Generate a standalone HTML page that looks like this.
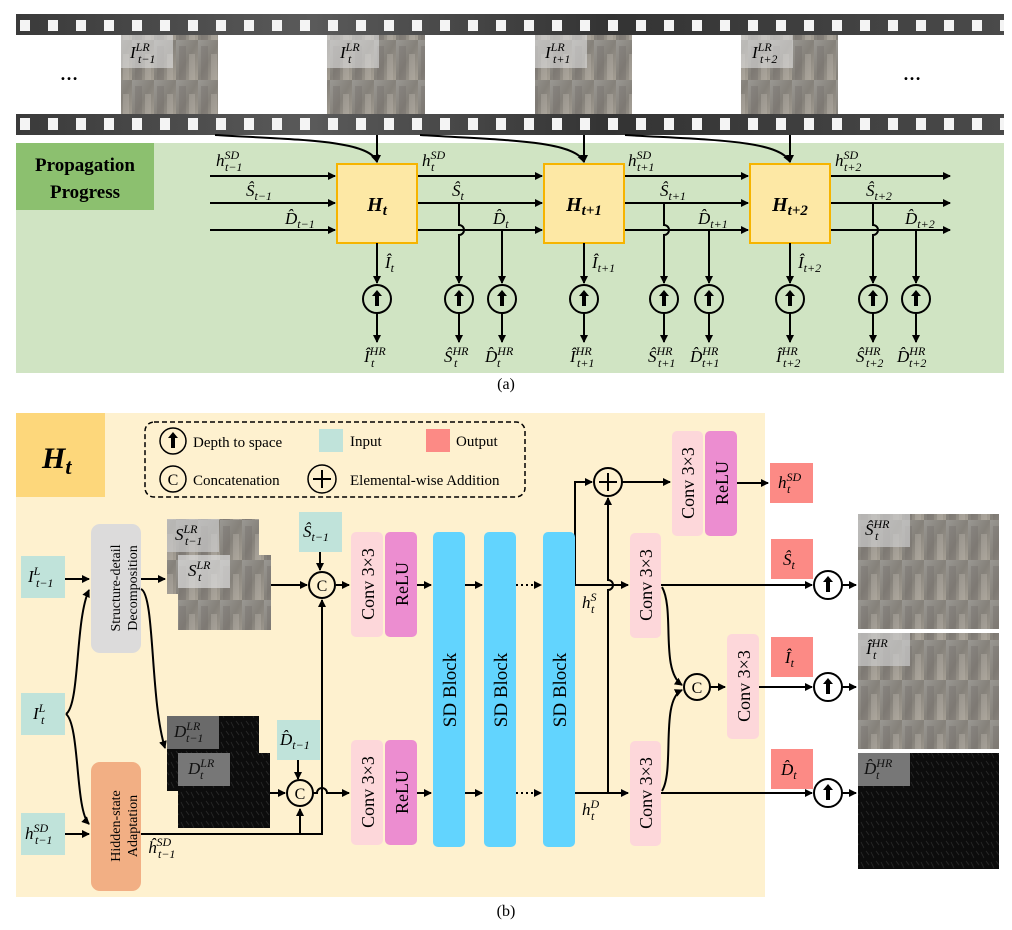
<!DOCTYPE html>
<html><head><meta charset="utf-8"><style>
html,body{margin:0;padding:0;background:#fff}
svg{display:block}
text{font-family:"Liberation Serif",serif;fill:#000}
.m{font-style:italic;font-size:17px}
.s{font-size:12px}
</style></head><body>
<svg width="1012" height="930" viewBox="0 0 1012 930" xmlns="http://www.w3.org/2000/svg">
<defs>
<marker id="a" markerWidth="8" markerHeight="8" refX="7" refY="4" orient="auto" markerUnits="userSpaceOnUse"><path d="M0,0 L8,4 L0,8 z" fill="#000"/></marker>
<linearGradient id="film" x1="0" y1="0" x2="1" y2="0">
<stop offset="0" stop-color="#3a3a3a"/><stop offset="0.3" stop-color="#5a5a5a"/><stop offset="0.6" stop-color="#333"/><stop offset="1" stop-color="#4a4a4a"/></linearGradient>
<pattern id="holes" x="20" y="0" width="28" height="200" patternUnits="userSpaceOnUse"><rect x="0" y="0" width="10" height="200" fill="#f4f4f4" rx="2"/></pattern>
<linearGradient id="city" x1="0" y1="0" x2="1" y2="1"><stop offset="0" stop-color="#9a9893"/><stop offset="0.5" stop-color="#85817a"/><stop offset="1" stop-color="#a59f94"/></linearGradient>
<pattern id="bld" width="22" height="40" patternUnits="userSpaceOnUse"><rect width="22" height="40" fill="url(#city)"/><rect x="3" y="6" width="7" height="34" fill="#6e6b66" opacity=".35"/><rect x="13" y="14" width="6" height="26" fill="#c0bbb2" opacity=".35"/></pattern>
<pattern id="dark" width="10" height="10" patternUnits="userSpaceOnUse"><rect width="10" height="10" fill="#0c0c0c"/><path d="M1,2 L4,8 M6,1 L9,5" stroke="#2a2a2a" stroke-width="0.8"/></pattern>
</defs>

<!-- FILM STRIP -->
<rect x="16" y="14" width="988" height="121" fill="url(#film)"/>
<rect x="16" y="20" width="988" height="11" fill="url(#holes)"/>
<rect x="16" y="118" width="988" height="12" fill="url(#holes)"/>
<rect x="16" y="35" width="988" height="79" fill="#fff"/>
<g>
<rect x="121" y="35" width="97" height="79" fill="url(#bld)"/><rect x="121" y="35" width="52" height="33" fill="#ddd" opacity=".6"/>
<rect x="327" y="35" width="98" height="79" fill="url(#bld)"/><rect x="327" y="35" width="52" height="33" fill="#ddd" opacity=".6"/>
<rect x="535" y="35" width="97" height="79" fill="url(#bld)"/><rect x="535" y="35" width="52" height="33" fill="#ddd" opacity=".6"/>
<rect x="741" y="35" width="97" height="79" fill="url(#bld)"/><rect x="741" y="35" width="52" height="33" fill="#ddd" opacity=".6"/>
</g>
<text x="60" y="80" font-size="18" font-weight="bold">…</text>
<text x="903" y="80" font-size="18" font-weight="bold">…</text>
<text class="m" x="130" y="58">I<tspan class="s" dy="-7">LR</tspan><tspan class="s" x="138" dy="12">t−1</tspan></text>
<text class="m" x="340" y="58">I<tspan class="s" dy="-7">LR</tspan><tspan class="s" x="348" dy="12">t</tspan></text>
<text class="m" x="545" y="58">I<tspan class="s" dy="-7">LR</tspan><tspan class="s" x="553" dy="12">t+1</tspan></text>
<text class="m" x="752" y="58">I<tspan class="s" dy="-7">LR</tspan><tspan class="s" x="760" dy="12">t+2</tspan></text>

<!-- GREEN PANEL -->
<rect x="16" y="143" width="988" height="230" fill="#d0e4c3"/>
<rect x="16" y="143" width="138" height="67" fill="#8cc06f"/>
<text x="85" y="171" font-size="19" font-weight="bold" text-anchor="middle">Propagation</text>
<text x="85" y="198" font-size="19" font-weight="bold" text-anchor="middle">Progress</text>

<g stroke="#000" stroke-width="2" fill="none">
<path d="M215,135 C300,140 370,140 377,162" marker-end="url(#a)"/>
<line x1="377" y1="135" x2="377" y2="162" marker-end="url(#a)"/>
<path d="M420,135 C500,140 575,140 584,162" marker-end="url(#a)"/>
<line x1="584" y1="135" x2="584" y2="162" marker-end="url(#a)"/>
<path d="M625,135 C710,140 780,140 790,162" marker-end="url(#a)"/>
<line x1="790" y1="135" x2="790" y2="162" marker-end="url(#a)"/>
</g>

<g stroke="#000" stroke-width="2" fill="none">
<line x1="210" y1="176" x2="335" y2="176" marker-end="url(#a)"/>
<line x1="210" y1="203" x2="335" y2="203" marker-end="url(#a)"/>
<line x1="210" y1="230" x2="335" y2="230" marker-end="url(#a)"/>
<line x1="417" y1="176" x2="542" y2="176" marker-end="url(#a)"/>
<line x1="417" y1="203" x2="542" y2="203" marker-end="url(#a)"/>
<line x1="417" y1="230" x2="542" y2="230" marker-end="url(#a)"/>
<line x1="624" y1="176" x2="748" y2="176" marker-end="url(#a)"/>
<line x1="624" y1="203" x2="748" y2="203" marker-end="url(#a)"/>
<line x1="624" y1="230" x2="748" y2="230" marker-end="url(#a)"/>
<line x1="830" y1="176" x2="950" y2="176" marker-end="url(#a)"/>
<line x1="830" y1="203" x2="950" y2="203" marker-end="url(#a)"/>
<line x1="830" y1="230" x2="950" y2="230" marker-end="url(#a)"/>
</g>
<g fill="#fde8a5" stroke="#f6b400" stroke-width="2">
<rect x="337" y="164" width="80" height="79"/><rect x="544" y="164" width="80" height="79"/><rect x="750" y="164" width="80" height="79"/>
</g>
<text x="377" y="211" font-size="20" font-weight="bold" font-style="italic" text-anchor="middle">H<tspan font-size="15" dy="4">t</tspan></text>
<text x="584" y="211" font-size="20" font-weight="bold" font-style="italic" text-anchor="middle">H<tspan font-size="15" dy="4">t+1</tspan></text>
<text x="790" y="211" font-size="20" font-weight="bold" font-style="italic" text-anchor="middle">H<tspan font-size="15" dy="4">t+2</tspan></text>

<g stroke="#000" stroke-width="2" fill="none">
<line x1="377" y1="243" x2="377" y2="283" marker-end="url(#a)"/><line x1="377" y1="313" x2="377" y2="342" marker-end="url(#a)"/>
<path d="M459,203 V225 a5,5 0 0 1 0,10 V283" marker-end="url(#a)"/><line x1="459" y1="313" x2="459" y2="342" marker-end="url(#a)"/>
<line x1="502" y1="230" x2="502" y2="283" marker-end="url(#a)"/><line x1="502" y1="313" x2="502" y2="342" marker-end="url(#a)"/>
<line x1="584" y1="243" x2="584" y2="283" marker-end="url(#a)"/><line x1="584" y1="313" x2="584" y2="342" marker-end="url(#a)"/>
<path d="M664,203 V225 a5,5 0 0 1 0,10 V283" marker-end="url(#a)"/><line x1="664" y1="313" x2="664" y2="342" marker-end="url(#a)"/>
<line x1="709" y1="230" x2="709" y2="283" marker-end="url(#a)"/><line x1="709" y1="313" x2="709" y2="342" marker-end="url(#a)"/>
<line x1="790" y1="243" x2="790" y2="283" marker-end="url(#a)"/><line x1="790" y1="313" x2="790" y2="342" marker-end="url(#a)"/>
<path d="M873,203 V225 a5,5 0 0 1 0,10 V283" marker-end="url(#a)"/><line x1="873" y1="313" x2="873" y2="342" marker-end="url(#a)"/>
<line x1="916" y1="230" x2="916" y2="283" marker-end="url(#a)"/><line x1="916" y1="313" x2="916" y2="342" marker-end="url(#a)"/>
</g>
<g fill="none" stroke="#000" stroke-width="2">
<circle cx="377" cy="299" r="14"/><circle cx="459" cy="299" r="14"/><circle cx="502" cy="299" r="14"/>
<circle cx="584" cy="299" r="14"/><circle cx="664" cy="299" r="14"/><circle cx="709" cy="299" r="14"/>
<circle cx="790" cy="299" r="14"/><circle cx="873" cy="299" r="14"/><circle cx="916" cy="299" r="14"/>
</g>
<g fill="#000">
<path d="M377,290 l-5,6 h3 v10 h4 v-10 h3 z"/><path d="M459,290 l-5,6 h3 v10 h4 v-10 h3 z"/><path d="M502,290 l-5,6 h3 v10 h4 v-10 h3 z"/>
<path d="M584,290 l-5,6 h3 v10 h4 v-10 h3 z"/><path d="M664,290 l-5,6 h3 v10 h4 v-10 h3 z"/><path d="M709,290 l-5,6 h3 v10 h4 v-10 h3 z"/>
<path d="M790,290 l-5,6 h3 v10 h4 v-10 h3 z"/><path d="M873,290 l-5,6 h3 v10 h4 v-10 h3 z"/><path d="M916,290 l-5,6 h3 v10 h4 v-10 h3 z"/>
</g>

<text class="m" x="216" y="166">h<tspan class="s" dy="-7">SD</tspan><tspan class="s" x="225" dy="12">t−1</tspan></text>
<text class="m" x="246" y="196">Ŝ<tspan class="s" dy="4">t−1</tspan></text>
<text class="m" x="285" y="224">D̂<tspan class="s" dy="4">t−1</tspan></text>
<text class="m" x="422" y="166">h<tspan class="s" dy="-7">SD</tspan><tspan class="s" x="431" dy="12">t</tspan></text>
<text class="m" x="452" y="196">Ŝ<tspan class="s" dy="4">t</tspan></text>
<text class="m" x="493" y="224">D̂<tspan class="s" dy="4">t</tspan></text>
<text class="m" x="628" y="166">h<tspan class="s" dy="-7">SD</tspan><tspan class="s" x="637" dy="12">t+1</tspan></text>
<text class="m" x="660" y="196">Ŝ<tspan class="s" dy="4">t+1</tspan></text>
<text class="m" x="698" y="224">D̂<tspan class="s" dy="4">t+1</tspan></text>
<text class="m" x="835" y="166">h<tspan class="s" dy="-7">SD</tspan><tspan class="s" x="844" dy="12">t+2</tspan></text>
<text class="m" x="866" y="196">Ŝ<tspan class="s" dy="4">t+2</tspan></text>
<text class="m" x="905" y="224">D̂<tspan class="s" dy="4">t+2</tspan></text>
<text class="m" x="385" y="268">Î<tspan class="s" dy="4">t</tspan></text>
<text class="m" x="592" y="268">Î<tspan class="s" dy="4">t+1</tspan></text>
<text class="m" x="798" y="268">Î<tspan class="s" dy="4">t+2</tspan></text>
<g>
<text class="m" x="364" y="362">Î<tspan class="s" dy="-7">HR</tspan><tspan class="s" x="371" dy="12">t</tspan></text>
<text class="m" x="444" y="362">Ŝ<tspan class="s" dy="-7">HR</tspan><tspan class="s" x="454" dy="12">t</tspan></text>
<text class="m" x="485" y="362">D̂<tspan class="s" dy="-7">HR</tspan><tspan class="s" x="497" dy="12">t</tspan></text>
<text class="m" x="570" y="362">Î<tspan class="s" dy="-7">HR</tspan><tspan class="s" x="577" dy="12">t+1</tspan></text>
<text class="m" x="648" y="362">Ŝ<tspan class="s" dy="-7">HR</tspan><tspan class="s" x="658" dy="12">t+1</tspan></text>
<text class="m" x="690" y="362">D̂<tspan class="s" dy="-7">HR</tspan><tspan class="s" x="702" dy="12">t+1</tspan></text>
<text class="m" x="776" y="362">Î<tspan class="s" dy="-7">HR</tspan><tspan class="s" x="783" dy="12">t+2</tspan></text>
<text class="m" x="856" y="362">Ŝ<tspan class="s" dy="-7">HR</tspan><tspan class="s" x="866" dy="12">t+2</tspan></text>
<text class="m" x="897" y="362">D̂<tspan class="s" dy="-7">HR</tspan><tspan class="s" x="909" dy="12">t+2</tspan></text>
</g>
<text x="506" y="389" font-size="16" text-anchor="middle">(a)</text>

<!-- BOTTOM PANEL -->
<rect x="16" y="413" width="749" height="484" fill="#fef1cf"/>
<rect x="16" y="413" width="89" height="84" fill="#fdd77b"/>
<text x="42" y="468" font-size="30" font-weight="bold" font-style="italic">H<tspan font-size="22" dy="6">t</tspan></text>

<rect x="145" y="422" width="380" height="75" rx="9" fill="none" stroke="#000" stroke-width="1.5" stroke-dasharray="5,3"/>
<circle cx="173" cy="441" r="13" fill="none" stroke="#000" stroke-width="1.5"/><path d="M173,432 l-5,6 h3 v10 h4 v-10 h3 z"/>
<text x="193" y="447" font-size="15">Depth to space</text>
<rect x="319" y="429" width="24" height="23" fill="#c0e3da"/><text x="350" y="446" font-size="15">Input</text>
<rect x="426" y="429" width="24" height="23" fill="#fc8a85"/><text x="456" y="446" font-size="15">Output</text>
<circle cx="173" cy="479" r="13" fill="none" stroke="#000" stroke-width="1.5"/><text x="173" y="485" font-size="16" text-anchor="middle">C</text>
<text x="193" y="485" font-size="15">Concatenation</text>
<circle cx="322" cy="479" r="14" fill="none" stroke="#000" stroke-width="1.5"/><path d="M313,479 h18 M322,470 v18" stroke="#000" stroke-width="2"/>
<text x="350" y="485" font-size="15">Elemental-wise Addition</text>

<g fill="#c0e3da">
<rect x="21" y="556" width="44" height="42"/><rect x="21" y="693" width="44" height="42"/><rect x="21" y="813" width="44" height="42"/>
<rect x="299" y="512" width="43" height="40"/><rect x="277" y="720" width="43" height="40"/>
</g>
<text class="m" x="28" y="582">I<tspan class="s" dy="-7">L</tspan><tspan class="s" x="36" dy="12">t−1</tspan></text>
<text class="m" x="33" y="719">I<tspan class="s" dy="-7">L</tspan><tspan class="s" x="41" dy="12">t</tspan></text>
<text class="m" x="25" y="839">h<tspan class="s" dy="-7">SD</tspan><tspan class="s" x="35" dy="12">t−1</tspan></text>
<text class="m" x="303" y="537">Ŝ<tspan class="s" dy="4">t−1</tspan></text>
<text class="m" x="280" y="745">D̂<tspan class="s" dy="4">t−1</tspan></text>

<rect x="91" y="524" width="50" height="129" rx="9" fill="#dcdbdb"/>
<text transform="translate(120,588) rotate(-90)" font-size="14" text-anchor="middle">Structure-detail</text>
<text transform="translate(137,588) rotate(-90)" font-size="14" text-anchor="middle">Decomposition</text>
<rect x="91" y="762" width="50" height="129" rx="9" fill="#f2af84"/>
<text transform="translate(120,826) rotate(-90)" font-size="14" text-anchor="middle">Hidden-state</text>
<text transform="translate(137,826) rotate(-90)" font-size="14" text-anchor="middle">Adaptation</text>

<rect x="167" y="519" width="92" height="75" fill="url(#bld)"/><rect x="167" y="519" width="52" height="33" fill="#ccc" opacity=".7"/>
<text class="m" x="175" y="540">S<tspan class="s" dy="-7">LR</tspan><tspan class="s" x="185" dy="12">t−1</tspan></text>
<rect x="178" y="555" width="93" height="75" fill="url(#bld)"/><rect x="178" y="555" width="52" height="33" fill="#ddd" opacity=".7"/>
<text class="m" x="188" y="576">S<tspan class="s" dy="-7">LR</tspan><tspan class="s" x="198" dy="12">t</tspan></text>
<rect x="167" y="716" width="92" height="75" fill="url(#dark)"/><rect x="167" y="716" width="52" height="33" fill="#6a6a6a"/>
<text class="m" x="174" y="737" style="fill:#111">D<tspan class="s" dy="-7">LR</tspan><tspan class="s" x="186" dy="12">t−1</tspan></text>
<rect x="178" y="753" width="92" height="75" fill="url(#dark)"/><rect x="178" y="753" width="52" height="33" fill="#777"/>
<text class="m" x="188" y="774" style="fill:#111">D<tspan class="s" dy="-7">LR</tspan><tspan class="s" x="200" dy="12">t</tspan></text>

<g stroke="#000" stroke-width="2" fill="none">
<line x1="65" y1="579" x2="89" y2="579" marker-end="url(#a)"/>
<line x1="65" y1="834" x2="89" y2="834" marker-end="url(#a)"/>
<path d="M66,714 C80,705 75,620 89,590" marker-end="url(#a)"/>
<path d="M66,714 C80,725 75,810 89,824" marker-end="url(#a)"/>
<line x1="141" y1="579" x2="165" y2="579" marker-end="url(#a)"/>
<path d="M141,589 C155,595 150,700 165,748" marker-end="url(#a)"/>
<line x1="271" y1="585" x2="307" y2="585" marker-end="url(#a)"/>
<line x1="320" y1="552" x2="320" y2="570" marker-end="url(#a)"/>
<line x1="270" y1="793" x2="285" y2="793" marker-end="url(#a)"/>
<line x1="298" y1="760" x2="298" y2="779" marker-end="url(#a)"/>
<path d="M141,834 H322 V600" marker-end="url(#a)"/>
<line x1="300" y1="834" x2="300" y2="809" marker-end="url(#a)"/>
<line x1="336" y1="585" x2="349" y2="585" marker-end="url(#a)"/>
<path d="M313,793 H317 a5,5 0 0 1 10,0 H349" marker-end="url(#a)"/>
<line x1="417" y1="585" x2="431" y2="585" marker-end="url(#a)"/>
<line x1="417" y1="793" x2="431" y2="793" marker-end="url(#a)"/>
<line x1="465" y1="585" x2="482" y2="585" marker-end="url(#a)"/>
<line x1="465" y1="793" x2="482" y2="793" marker-end="url(#a)"/>
<line x1="516" y1="585" x2="541" y2="585" stroke-dasharray="2,3" marker-end="url(#a)"/>
<line x1="516" y1="793" x2="541" y2="793" stroke-dasharray="2,3" marker-end="url(#a)"/>
<path d="M575,585 V482 H592" marker-end="url(#a)"/>
<line x1="575" y1="585" x2="628" y2="585" marker-end="url(#a)"/>
<line x1="575" y1="793" x2="628" y2="793" marker-end="url(#a)"/>
<path d="M608,793 V590 a5,5 0 0 0 0,-10 V498" marker-end="url(#a)"/>
<line x1="622" y1="482" x2="670" y2="482" marker-end="url(#a)"/>
<line x1="737" y1="483" x2="768" y2="483" marker-end="url(#a)"/>
<line x1="661" y1="585" x2="812" y2="585" marker-end="url(#a)"/>
<line x1="661" y1="793" x2="812" y2="793" marker-end="url(#a)"/>
<path d="M662,587 C675,610 660,670 682,685" marker-end="url(#a)"/>
<path d="M662,791 C675,770 660,700 682,690" marker-end="url(#a)"/>
<line x1="710" y1="687" x2="725" y2="687" marker-end="url(#a)"/>
<line x1="759" y1="687" x2="812" y2="687" marker-end="url(#a)"/>
<line x1="842" y1="585" x2="856" y2="585" marker-end="url(#a)"/>
<line x1="842" y1="687" x2="856" y2="687" marker-end="url(#a)"/>
<line x1="842" y1="793" x2="856" y2="793" marker-end="url(#a)"/>
</g>
<g fill="#fff" stroke="#000" stroke-width="2">
<circle cx="322" cy="585" r="13" fill="#fef1cf"/><circle cx="300" cy="793" r="13" fill="#fef1cf"/>
<circle cx="697" cy="687" r="13" fill="#fef1cf"/><circle cx="608" cy="482" r="14" fill="#fef1cf"/>
<circle cx="828" cy="585" r="14"/><circle cx="828" cy="687" r="14"/><circle cx="828" cy="793" r="14"/>
</g>
<path d="M599,482 h18 M608,473 v18" stroke="#000" stroke-width="2"/>
<text x="322" y="591" font-size="16" text-anchor="middle">C</text>
<text x="300" y="799" font-size="16" text-anchor="middle">C</text>
<text x="697" y="693" font-size="16" text-anchor="middle">C</text>
<path d="M828,576 l-5,6 h3 v10 h4 v-10 h3 z M828,678 l-5,6 h3 v10 h4 v-10 h3 z M828,784 l-5,6 h3 v10 h4 v-10 h3 z"/>

<g fill="#fdd7da">
<rect x="351" y="532" width="32" height="105" rx="5"/><rect x="351" y="740" width="32" height="105" rx="5"/>
<rect x="672" y="431" width="31" height="105" rx="5"/><rect x="630" y="533" width="31" height="105" rx="5"/>
<rect x="630" y="741" width="31" height="105" rx="5"/><rect x="727" y="634" width="32" height="105" rx="5"/>
</g>
<g fill="#ec8dd0">
<rect x="385" y="532" width="32" height="105" rx="5"/><rect x="385" y="740" width="32" height="105" rx="5"/>
<rect x="705" y="431" width="32" height="105" rx="5"/>
</g>
<g fill="#62d4fe">
<rect x="433" y="532" width="32" height="315" rx="5"/><rect x="484" y="532" width="32" height="315" rx="5"/><rect x="543" y="532" width="32" height="315" rx="5"/>
</g>
<g font-size="18" text-anchor="middle">
<text transform="translate(374,584) rotate(-90)">Conv 3×3</text>
<text transform="translate(374,792) rotate(-90)">Conv 3×3</text>
<text transform="translate(694,483) rotate(-90)">Conv 3×3</text>
<text transform="translate(652,585) rotate(-90)">Conv 3×3</text>
<text transform="translate(652,793) rotate(-90)">Conv 3×3</text>
<text transform="translate(750,686) rotate(-90)">Conv 3×3</text>
<text transform="translate(408,584) rotate(-90)">ReLU</text>
<text transform="translate(408,792) rotate(-90)">ReLU</text>
<text transform="translate(728,483) rotate(-90)">ReLU</text>
<text transform="translate(456,690) rotate(-90)" font-size="19">SD Block</text>
<text transform="translate(507,690) rotate(-90)" font-size="19">SD Block</text>
<text transform="translate(566,690) rotate(-90)" font-size="19">SD Block</text>
</g>
<text class="m" x="582" y="608">h<tspan class="s" dy="-7">S</tspan><tspan class="s" x="591" dy="12">t</tspan></text>
<text class="m" x="582" y="815">h<tspan class="s" dy="-7">D</tspan><tspan class="s" x="591" dy="12">t</tspan></text>
<text class="m" x="148" y="853">ĥ<tspan class="s" dy="-7">SD</tspan><tspan class="s" x="158" dy="12">t−1</tspan></text>

<g fill="#fc8a85">
<rect x="770" y="463" width="43" height="40"/><rect x="771" y="539" width="42" height="40"/>
<rect x="771" y="637" width="42" height="40"/><rect x="771" y="749" width="42" height="40"/>
</g>
<text class="m" x="778" y="488">h<tspan class="s" dy="-7">SD</tspan><tspan class="s" x="787" dy="12">t</tspan></text>
<text class="m" x="783" y="565">Ŝ<tspan class="s" dy="4">t</tspan></text>
<text class="m" x="785" y="663">Î<tspan class="s" dy="4">t</tspan></text>
<text class="m" x="781" y="775">D̂<tspan class="s" dy="4">t</tspan></text>

<rect x="858" y="514" width="141" height="115" fill="url(#bld)"/><rect x="858" y="514" width="52" height="33" fill="#ccc" opacity=".7"/>
<text class="m" x="865" y="535">Ŝ<tspan class="s" dy="-7">HR</tspan><tspan class="s" x="875" dy="12">t</tspan></text>
<rect x="858" y="633" width="141" height="116" fill="url(#bld)"/><rect x="858" y="633" width="52" height="33" fill="#ccc" opacity=".7"/>
<text class="m" x="866" y="654">Î<tspan class="s" dy="-7">HR</tspan><tspan class="s" x="873" dy="12">t</tspan></text>
<rect x="858" y="753" width="141" height="116" fill="url(#dark)"/><rect x="858" y="753" width="52" height="33" fill="#777"/>
<text class="m" x="864" y="774" style="fill:#111">D̂<tspan class="s" dy="-7">HR</tspan><tspan class="s" x="876" dy="12">t</tspan></text>

<text x="506" y="916" font-size="16" text-anchor="middle">(b)</text>
</svg>
</body></html>
